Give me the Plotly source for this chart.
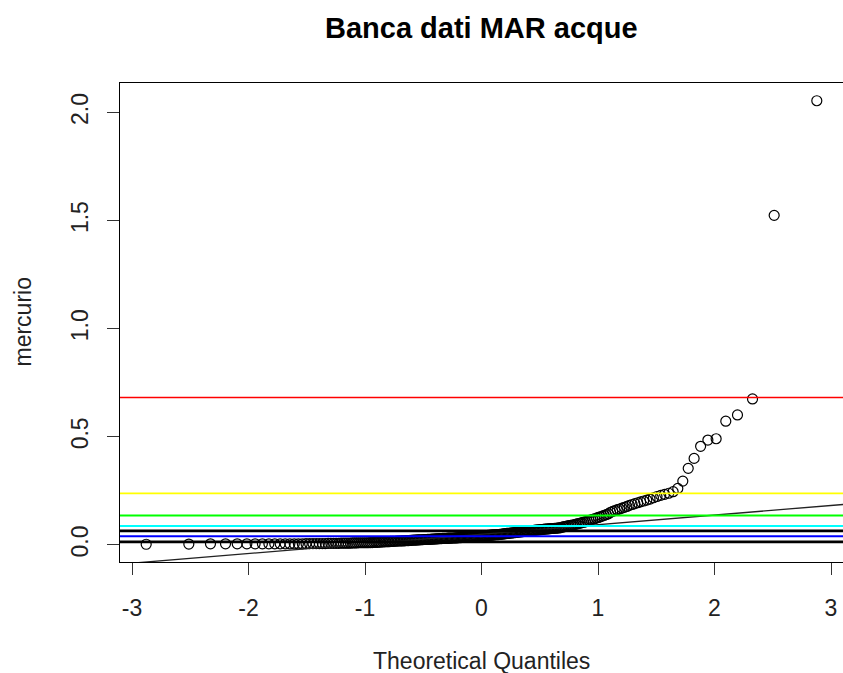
import numpy as np
import plotly.graph_objects as go
from statistics import NormalDist

# Sorted mercury concentrations (n = 250)
mercurio = [
    0.003, 0.004, 0.005, 0.005, 0.005, 0.005, 0.005, 0.005, 0.005, 0.005,
    0.005, 0.005, 0.005, 0.005, 0.005, 0.005, 0.006, 0.006, 0.006, 0.006,
    0.006, 0.006, 0.006, 0.007, 0.007, 0.007, 0.007, 0.007, 0.008, 0.008,
    0.008, 0.008, 0.008, 0.009, 0.009, 0.009, 0.010, 0.010, 0.010, 0.010,
    0.010, 0.010, 0.011, 0.011, 0.012, 0.012, 0.012, 0.013, 0.013, 0.014,
    0.014, 0.015, 0.015, 0.015, 0.016, 0.016, 0.017, 0.017, 0.018, 0.018,
    0.018, 0.019, 0.019, 0.019, 0.020, 0.020, 0.020, 0.021, 0.021, 0.022,
    0.022, 0.022, 0.023, 0.023, 0.024, 0.024, 0.024, 0.025, 0.025, 0.025,
    0.026, 0.026, 0.026, 0.027, 0.027, 0.027, 0.028, 0.028, 0.028, 0.029,
    0.029, 0.029, 0.030, 0.030, 0.030, 0.030, 0.031, 0.031, 0.031, 0.032,
    0.032, 0.032, 0.033, 0.033, 0.033, 0.034, 0.034, 0.034, 0.035, 0.035,
    0.035, 0.036, 0.036, 0.036, 0.037, 0.037, 0.038, 0.038, 0.038, 0.039,
    0.039, 0.040, 0.040, 0.040, 0.041, 0.041, 0.042, 0.042, 0.043, 0.043,
    0.044, 0.044, 0.045, 0.045, 0.046, 0.046, 0.047, 0.047, 0.048, 0.048,
    0.049, 0.049, 0.050, 0.051, 0.051, 0.052, 0.053, 0.053, 0.054, 0.055,
    0.055, 0.056, 0.057, 0.057, 0.058, 0.059, 0.059, 0.060, 0.061, 0.061,
    0.062, 0.062, 0.063, 0.064, 0.064, 0.065, 0.066, 0.066, 0.067, 0.068,
    0.069, 0.070, 0.070, 0.071, 0.071, 0.072, 0.073, 0.073, 0.074, 0.074,
    0.075, 0.076, 0.076, 0.077, 0.077, 0.078, 0.079, 0.079, 0.081, 0.083,
    0.085, 0.086, 0.088, 0.089, 0.090, 0.092, 0.093, 0.095, 0.097, 0.099,
    0.101, 0.103, 0.105, 0.107, 0.110, 0.113, 0.116, 0.118, 0.121, 0.124,
    0.127, 0.130, 0.133, 0.137, 0.140, 0.144, 0.151, 0.155, 0.159, 0.163,
    0.166, 0.170, 0.174, 0.178, 0.183, 0.187, 0.191, 0.195, 0.199, 0.203,
    0.207, 0.212, 0.218, 0.224, 0.229, 0.234, 0.239,
    0.246, 0.261, 0.295, 0.354, 0.400, 0.456, 0.485, 0.491, 0.572, 0.601,
    0.675, 1.524, 2.054,
]

# Reference (threshold) horizontal lines
soglie_valori = [0.682, 0.238, 0.136, 0.088, 0.065, 0.040, 0.014]
soglie_colori = ["#FF0000", "#FFFF00", "#00FF00", "#00FFFF", "#000000", "#0000FF", "#000000"]
soglie_spessori = [1.6, 1.8, 1.8, 2.0, 2.6, 1.8, 2.6]

x_ticks = [-3, -2, -1, 0, 1, 2, 3]
x_tick_labels = ["-3", "-2", "-1", "0", "1", "2", "3"]
y_ticks = [0.0, 0.5, 1.0, 1.5, 2.0]
y_tick_labels = ["0.0", "0.5", "1.0", "1.5", "2.0"]

titolo = "Banca dati MAR acque"
x_label = "Theoretical Quantiles"
y_label = "mercurio"

# Theoretical quantiles as in R's qqnorm (ppoints)
n = len(mercurio)
nd = NormalDist()
y_sorted = np.sort(np.array(mercurio))
theo = np.array([nd.inv_cdf((i - 0.5) / n) for i in range(1, n + 1)])

# qqline (through first and third quartiles)
q1, q3 = np.percentile(y_sorted, [25, 75])
t1, t3 = nd.inv_cdf(0.25), nd.inv_cdf(0.75)
slope = (q3 - q1) / (t3 - t1)
intercept = q1 - slope * t1
xl = np.array([-3.3, 3.3])
yl = intercept + slope * xl

FONT = "Liberation Sans, Arial, sans-serif"

fig = go.Figure()
fig.add_trace(go.Scatter(
    x=theo, y=y_sorted, mode="markers",
    marker=dict(symbol="circle-open", size=10, color="black", line=dict(width=1.2, color="black")),
    showlegend=False, hoverinfo="skip",
))
fig.add_trace(go.Scatter(
    x=xl, y=yl, mode="lines", line=dict(color="#222222", width=1.3),
    showlegend=False, hoverinfo="skip",
))

for v, c, w in zip(soglie_valori, soglie_colori, soglie_spessori):
    fig.add_shape(type="line", xref="paper", x0=0, x1=1, yref="y", y0=v, y1=v,
                  line=dict(color=c, width=w), layer="above")

fig.update_layout(
    width=843, height=673,
    margin=dict(l=120, r=0, t=83, b=111),
    paper_bgcolor="white", plot_bgcolor="white",
    font=dict(family=FONT, color="black", size=23),
    xaxis=dict(
        range=[-3.103, 3.103], tickvals=x_ticks, ticktext=x_tick_labels,
        ticks="outside", ticklen=12, tickwidth=1, tickcolor="#333333",
        showline=True, linecolor="black", linewidth=1, mirror=True,
        showgrid=False, zeroline=False, ticklabelstandoff=13,
        tickfont=dict(size=23, family=FONT, color="#222222"),
    ),
    yaxis=dict(
        range=[-0.079, 2.136], tickvals=y_ticks, ticktext=y_tick_labels,
        ticks="outside", ticklen=12, tickwidth=1, tickcolor="#333333",
        showline=True, linecolor="black", linewidth=1, mirror=False,
        showgrid=False, zeroline=False, tickangle=-90, ticklabelstandoff=10,
        tickfont=dict(size=23, family=FONT, color="#222222"),
    ),
    annotations=[
        dict(text="<b>" + titolo + "</b>", xref="paper", yref="paper", x=0.5, y=1,
             yshift=55, showarrow=False, font=dict(size=29, family=FONT, color="black"),
             xanchor="center", yanchor="middle"),
        dict(text=x_label, xref="paper", yref="paper", x=0.5, y=0, yshift=-99,
             showarrow=False, font=dict(size=23, family=FONT, color="#222222"),
             xanchor="center", yanchor="middle"),
        dict(text=y_label, xref="paper", yref="paper", x=0, y=0.5, xshift=-98,
             showarrow=False, textangle=-90, font=dict(size=23, family=FONT, color="#222222"),
             xanchor="center", yanchor="middle"),
    ],
)

fig.write_html("out.html")
